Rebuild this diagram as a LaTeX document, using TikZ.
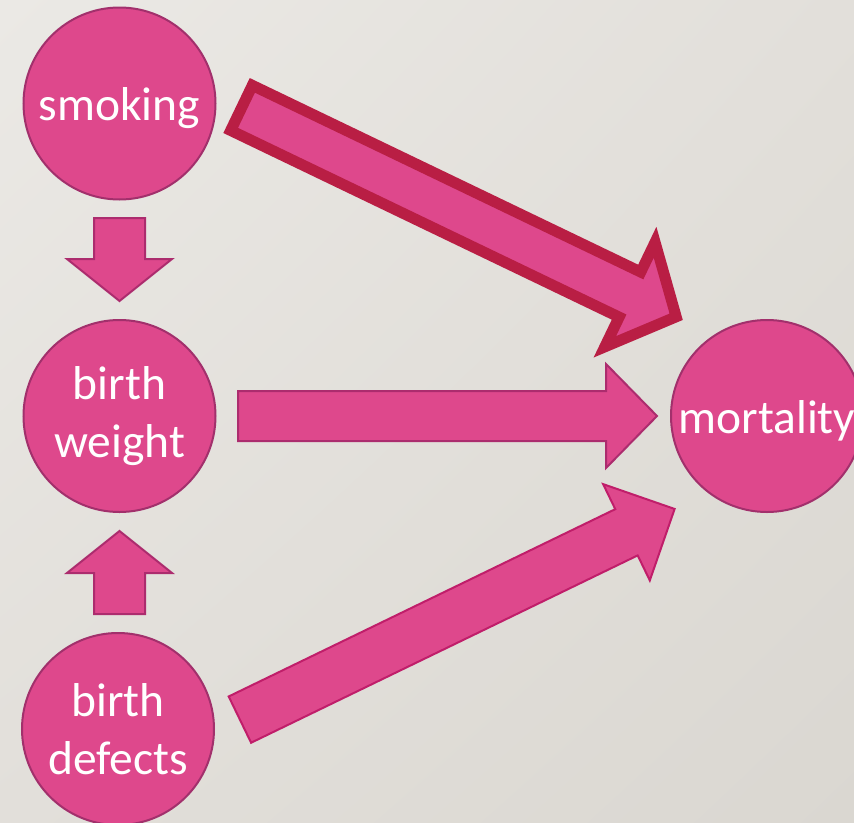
\documentclass[tikz,border=0pt]{standalone}
\usepackage{fontspec}
\setmainfont{Carlito}
\usetikzlibrary{calc,shadings}

\definecolor{bgUL}{RGB}{235,233,229}
\definecolor{bgUR}{RGB}{226,223,218}
\definecolor{bgLL}{RGB}{226,223,218}
\definecolor{bgLR}{RGB}{218,215,209}
\definecolor{pinkfill}{RGB}{222,72,140}
\definecolor{circedge}{RGB}{162,48,108}
\definecolor{arrowedge}{RGB}{172,44,110}
\definecolor{crimson}{RGB}{185,30,68}
\definecolor{magedge}{RGB}{192,30,106}

\tikzset{
  bubble/.style={circle, fill=pinkfill, draw=circedge, line width=2pt,
    minimum size=192pt, inner sep=0pt, text=white, align=center,
    font=\fontsize{47.5}{58}\selectfont,
    execute at begin node={\rule{0pt}{43pt}}},
  blockarrow/.style={fill=pinkfill, draw=arrowedge, line width=2pt, line join=miter},
}

% block arrow from #2 to #3: shaft half width #4, head half width #5, head length #6
\newcommand\blockarrow[6][]{%
  \path[blockarrow,#1] let \p1=(#2), \p2=(#3),
      \n1={atan2(\y2-\y1,\x2-\x1)}, \n2={veclen(\x2-\x1,\y2-\y1)} in
    [shift={(\p1)}, rotate=\n1]
    (0,#4) -- ({\n2-#6},#4) -- ({\n2-#6},#5) -- (\n2,0)
    -- ({\n2-#6},-#5) -- ({\n2-#6},-#4) -- (0,-#4) -- cycle;
}

\begin{document}
\begin{tikzpicture}[x=1pt, y=-1pt]
  % backdrop
  \shade[upper left=bgUL, upper right=bgUR, lower left=bgLL, lower right=bgLR]
    (0,0) rectangle (854,822);
  \useasboundingbox (0,0) rectangle (854,822);

  % factors
  \node[bubble] (smoke)   at (119.5,103.5) {smoking};
  \node[bubble] (weight)  at (119.5,416)   {birth\\weight};
  \node[bubble] (defects) at (118,729)     {birth\\defects};
  \node[bubble] (mort)    at (767,416)     {mortality};

  % arrow end points
  \coordinate (sw-tail) at ($(smoke.center)+(0,114.5)$);
  \coordinate (sw-tip)  at ($(weight.center)+(0,-115)$);
  \coordinate (dw-tail) at ($(defects.center)+(1.5,-115)$);
  \coordinate (dw-tip)  at ($(weight.center)+(0,115)$);
  \coordinate (wm-tail) at ($(weight.center)+(118.5,0)$);
  \coordinate (wm-tip)  at ($(mort.center)+(-110,0)$);
  \coordinate (sm-tail) at ($(smoke.center)+(122,4.4)$);
  \coordinate (sm-tip)  at ($(mort.center)+(-90.8,-99.2)$);
  \coordinate (dm-tail) at ($(defects.center)+(121.9,-9.4)$);
  \coordinate (dm-tip)  at ($(mort.center)+(-92.3,92.9)$);

  % connectors
  \blockarrow{sw-tail}{sw-tip}{25.5}{52.5}{42}
  \blockarrow{dw-tail}{dw-tip}{25.5}{52.5}{42}
  \blockarrow{wm-tail}{wm-tip}{25}{52}{51}
  \blockarrow[draw=crimson, line width=11pt]{sm-tail}{sm-tip}{25}{58}{51.3}
  \blockarrow[draw=magedge]{dm-tail}{dm-tip}{25.7}{53.5}{53.5}
\end{tikzpicture}
\end{document}
